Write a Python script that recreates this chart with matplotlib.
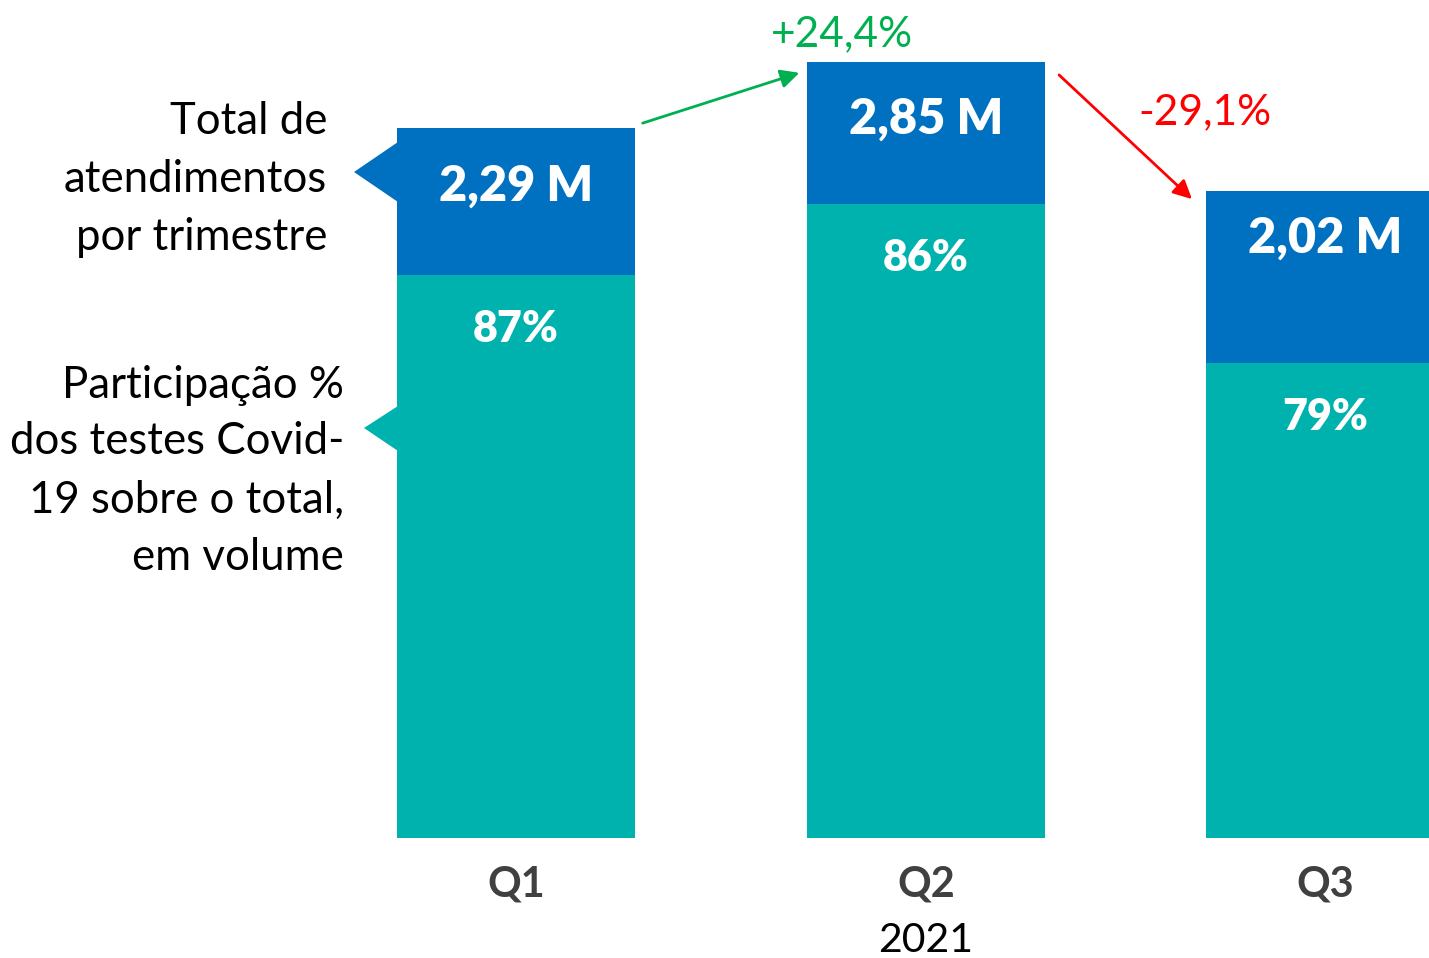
import matplotlib.pyplot as plt
from matplotlib.patches import Polygon

plt.rcParams['font.family'] = ['Lato', 'DejaVu Sans']

# data (bar heights are the drawn heights, arbitrary units)
quarters = ['Q1', 'Q2', 'Q3']
total_label = ['2,29 M', '2,85 M', '2,02 M']
share_label = ['87%', '86%', '79%']
bar_height = [7.10, 7.76, 6.47]
teal_height = [5.63, 6.34, 4.75]
change_label = ['+24,4%', '-29,1%']
year = '2021'

blue = '#0070C0'
teal = '#00B2AD'
green = '#00B050'
red = '#FF0000'

W, H = 1429, 958
fig = plt.figure(figsize=(W / 100, H / 100), dpi=100)
ax = fig.add_axes([0, 0, 1, 1])
# 410 px per category, 100 px per height unit, baseline at y=838 px
ax.set_xlim(-516 / 410, (W - 516) / 410)
ax.set_ylim(-(H - 838) / 100, 8.38)
ax.axis('off')


def px(x, y):
    # pixel position -> data coords (for annotations only)
    return ((x - 516) / 410, (838 - y) / 100)


x_pos = [0, 1, 1.973]
width = 0.58
label_drop = [0.58, 0.57, 0.47]  # how far the M labels sit under the bar top
blue_part = [t - s for t, s in zip(bar_height, teal_height)]
ax.bar(x_pos, teal_height, width, color=teal)
ax.bar(x_pos, blue_part, width, bottom=teal_height, color=blue)

for i in range(3):
    ax.text(x_pos[i], bar_height[i] - label_drop[i], total_label[i], ha='center', va='center',
            color='white', fontsize=35, fontweight='heavy')
    ax.text(x_pos[i], teal_height[i] - 0.54, share_label[i], ha='center', va='center',
            color='white', fontsize=31, fontweight='heavy')
    ax.text(x_pos[i], -0.46, quarters[i], ha='center', va='center',
            color='#404040', fontsize=30, fontweight='bold')
ax.text(x_pos[1], -1.03, year, ha='center', va='center', color='black', fontsize=29.5)

# change arrows
ax.annotate('', xy=px(802, 72), xytext=px(640, 124),
            arrowprops=dict(arrowstyle='-|>', color=green, lw=2, mutation_scale=28))
ax.annotate('', xy=px(1194, 201), xytext=px(1057, 73),
            arrowprops=dict(arrowstyle='-|>', color=red, lw=2, mutation_scale=28))
ax.text(*px(842, 34), change_label[0], ha='center', va='center', color=green, fontsize=30.5)
ax.text(*px(1205, 112), change_label[1], ha='center', va='center', color=red, fontsize=30.5)

# callout pointers on the left of Q1
ax.add_patch(Polygon([px(354, 172), px(398, 142), px(398, 202)], closed=True,
                     color=blue, lw=0))
ax.add_patch(Polygon([px(364, 428), px(398, 406), px(398, 451)], closed=True,
                     color=teal, lw=0))

left_top = ['Total de', 'atendimentos', 'por trimestre']
for line, y in zip(left_top, [122, 180, 237]):
    ax.text(*px(327, y), line, ha='right', va='center', fontsize=31.5)
left_bottom = ['Participação %', 'dos testes Covid-', '19 sobre o total,', 'em volume']
for line, y in zip(left_bottom, [385, 442, 500, 557]):
    ax.text(*px(344, y), line, ha='right', va='center', fontsize=31.5)

fig.savefig('out.png', dpi=100)
